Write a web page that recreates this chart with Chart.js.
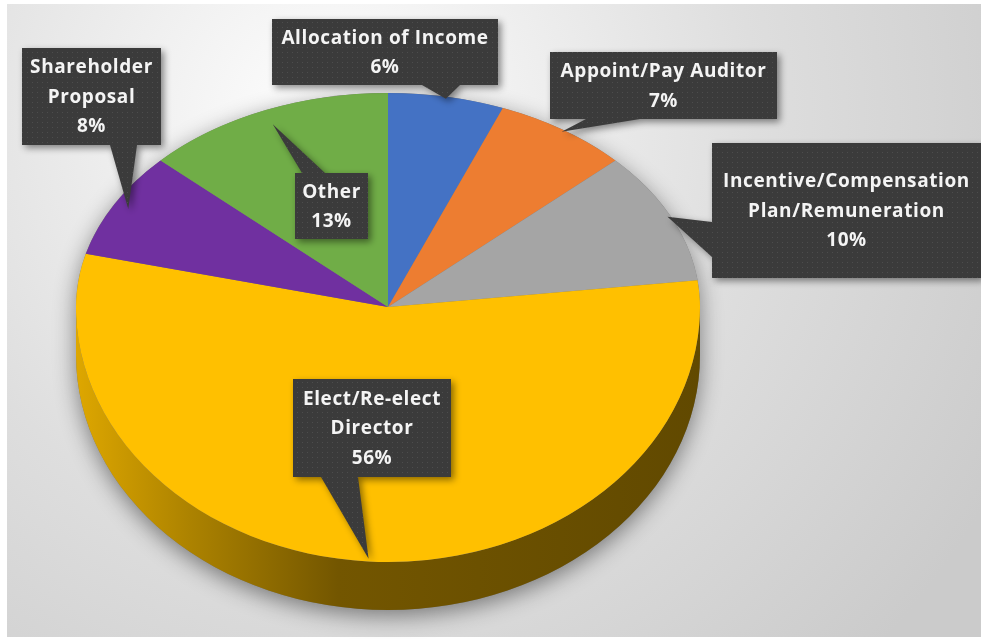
<!DOCTYPE html>
<html>
<head>
<meta charset="utf-8">
<title>Proposal categories</title>
<script src="https://cdn.jsdelivr.net/npm/chart.js@4.4.1/dist/chart.umd.min.js"></script>
<style>
  html, body { margin: 0; padding: 0; background: #fff; }
  #pie { display: block; }
</style>
</head>
<body>
<canvas id="pie" width="981" height="639"></canvas>
<script>
// proposal categories, clockwise from 12 o'clock
const categories = ['Allocation of Income', 'Appoint/Pay Auditor', 'Incentive/Compensation Plan/Remuneration',
  'Elect/Re-elect Director', 'Shareholder Proposal', 'Other'];
const shares = [6, 7, 10, 56, 8, 13];
const labelLines = [
  ['Allocation of Income'],
  ['Appoint/Pay Auditor'],
  ['Incentive/Compensation', 'Plan/Remuneration'],
  ['Elect/Re-elect', 'Director'],
  ['Shareholder', 'Proposal'],
  ['Other']
];
const sliceColors = ['#4472C4', '#ED7D31', '#A5A5A5', '#FFC000', '#7030A0', '#70AD47'];

// callout boxes: rect, which edge the pointer leaves from, pointer base span, how far in the tip reaches
const callouts = [
  { x: 272, y: 19,  w: 226, h: 66,  side: 'bottom', b0: 422, b1: 460, reach: 0.99 },
  { x: 550, y: 52,  w: 227, h: 67,  side: 'bottom', b0: 586, b1: 640, reach: 0.99 },
  { x: 712, y: 143, w: 269, h: 135, side: 'left',   b0: 222, b1: 257, reach: 0.99 },
  { x: 293, y: 379, w: 158, h: 98,  side: 'bottom', b0: 321, b1: 358, reach: 0.99 },
  { x: 22,  y: 48,  w: 139, h: 97,  side: 'bottom', b0: 110, b1: 137, reach: 0.95 },
  { x: 295, y: 173, w: 73,  h: 66,  side: 'top',    b0: 302, b1: 325, reach: 0.93 }
];

// fake perspective: far half squashed more than near half
const HUB_Y = 307;
const TILT_FAR = 0.686;
const TILT_NEAR = 0.817;
const DEPTH = 48;

function shade(hex, f) {
  const n = parseInt(hex.slice(1), 16);
  const r = Math.round(((n >> 16) & 255) * f), g = Math.round(((n >> 8) & 255) * f), b = Math.round((n & 255) * f);
  return `rgb(${r},${g},${b})`;
}

function dotPattern(ctx) {
  const c = document.createElement('canvas');
  c.width = 5; c.height = 5;
  const p = c.getContext('2d');
  p.fillStyle = '#3b3b3b';
  p.fillRect(0, 0, 5, 5);
  p.fillStyle = '#4d4d4d';
  p.fillRect(2, 2, 1, 1);
  return ctx.createPattern(c, 'repeat');
}

// map a point of the flat pie onto the tilted disc
function project(arc, angle, frac) {
  const s = Math.sin(angle);
  const k = s < 0 ? TILT_FAR : TILT_NEAR;
  return [arc.x + arc.outerRadius * frac * Math.cos(angle), HUB_Y + arc.outerRadius * frac * k * s];
}

function pushTilt(chart, k, y0, y1) {
  const ctx = chart.ctx;
  const { x: cx, y: cy } = chart.getDatasetMeta(0).data[0];
  ctx.save();
  ctx.beginPath();
  ctx.rect(0, y0, chart.width, y1 - y0);
  ctx.clip();
  ctx.translate(cx, HUB_Y);
  ctx.scale(1, k);
  ctx.translate(-cx, -cy);
}

const backdrop = {
  id: 'backdrop',
  beforeDraw(chart) {
    const ctx = chart.ctx;
    ctx.save();
    ctx.fillStyle = '#fff';
    ctx.fillRect(0, 0, chart.width, chart.height);
    const g = ctx.createRadialGradient(330, 120, 20, 330, 120, 760);
    g.addColorStop(0, '#fdfdfd');
    g.addColorStop(0.55, '#dedede');
    g.addColorStop(1, '#cbcbcb');
    ctx.fillStyle = g;
    ctx.fillRect(7, 4, chart.width - 7, 633);
    ctx.restore();
  }
};

const tilt = {
  id: 'tilt',
  beforeDatasetsDraw(chart) {
    const ctx = chart.ctx;
    const arcs = chart.getDatasetMeta(0).data;
    const cx = arcs[0].x, R = arcs[0].outerRadius;
    const ryFar = R * TILT_FAR, ryNear = R * TILT_NEAR;

    // soft shadow under the whole disc
    ctx.save();
    ctx.beginPath();
    ctx.ellipse(cx, HUB_Y, R, ryFar, 0, Math.PI, 2 * Math.PI);
    ctx.ellipse(cx, HUB_Y + DEPTH, R, ryNear, 0, 0, Math.PI);
    ctx.closePath();
    ctx.shadowColor = 'rgba(0,0,0,0.45)';
    ctx.shadowBlur = 22;
    ctx.shadowOffsetY = 6;
    ctx.fillStyle = '#777';
    ctx.fill();
    ctx.restore();

    // front wall of each slice (canvas angles 0..PI face the viewer)
    arcs.forEach((arc, i) => {
      const g = ctx.createLinearGradient(cx - R, 0, cx + R, 0);
      g.addColorStop(0, shade(sliceColors[i], 0.87));
      g.addColorStop(0.18, shade(sliceColors[i], 0.68));
      g.addColorStop(0.42, shade(sliceColors[i], 0.45));
      g.addColorStop(1, shade(sliceColors[i], 0.38));
      [-2 * Math.PI, 0, 2 * Math.PI].forEach(shift => {
        const a0 = Math.max(arc.startAngle + shift, 0);
        const a1 = Math.min(arc.endAngle + shift, Math.PI);
        if (a1 <= a0) return;
        ctx.beginPath();
        ctx.ellipse(cx, HUB_Y, R, ryNear, 0, a0, a1);
        ctx.ellipse(cx, HUB_Y + DEPTH, R, ryNear, 0, a1, a0, true);
        ctx.closePath();
        ctx.fillStyle = g;
        ctx.fill();
      });
    });

    // far half of the top face
    pushTilt(chart, TILT_FAR, 0, HUB_Y);
  },
  afterDatasetsDraw(chart) {
    chart.ctx.restore();
    // near half of the top face
    pushTilt(chart, TILT_NEAR, HUB_Y, chart.height);
    chart.getDatasetMeta(0).controller.draw();
    chart.ctx.restore();
  }
};

const calloutLabels = {
  id: 'calloutLabels',
  afterDraw(chart) {
    const ctx = chart.ctx;
    const arcs = chart.getDatasetMeta(0).data;
    const pattern = dotPattern(ctx);
    arcs.forEach((arc, i) => {
      const c = callouts[i];
      const [tx, ty] = project(arc, (arc.startAngle + arc.endAngle) / 2, c.reach);
      const { x, y, w, h } = c;

      ctx.save();
      ctx.beginPath();
      if (c.side === 'bottom') {
        ctx.moveTo(x, y); ctx.lineTo(x + w, y); ctx.lineTo(x + w, y + h);
        ctx.lineTo(c.b1, y + h); ctx.lineTo(tx, ty); ctx.lineTo(c.b0, y + h); ctx.lineTo(x, y + h);
      } else if (c.side === 'top') {
        ctx.moveTo(x, y); ctx.lineTo(c.b0, y); ctx.lineTo(tx, ty); ctx.lineTo(c.b1, y);
        ctx.lineTo(x + w, y); ctx.lineTo(x + w, y + h); ctx.lineTo(x, y + h);
      } else {
        ctx.moveTo(x, y); ctx.lineTo(x + w, y); ctx.lineTo(x + w, y + h); ctx.lineTo(x, y + h);
        ctx.lineTo(x, c.b1); ctx.lineTo(tx, ty); ctx.lineTo(x, c.b0);
      }
      ctx.closePath();
      ctx.shadowColor = 'rgba(0,0,0,0.45)';
      ctx.shadowBlur = 7;
      ctx.shadowOffsetX = 3;
      ctx.shadowOffsetY = 3;
      ctx.fillStyle = pattern;
      ctx.fill();
      ctx.restore();

      const lines = labelLines[i].concat([shares[i] + '%']);
      const lh = 29.5;
      ctx.save();
      ctx.font = '700 19px "Open Sans", Lato, sans-serif';
      ctx.letterSpacing = '0.6px';
      ctx.fillStyle = '#f4f4f4';
      ctx.textAlign = 'center';
      ctx.textBaseline = 'middle';
      const top = y + h / 2 - (lines.length - 1) * lh / 2 + 1;
      lines.forEach((t, j) => ctx.fillText(t, x + w / 2, top + j * lh));
      ctx.restore();
    });
  }
};

new Chart(document.getElementById('pie'), {
  type: 'pie',
  data: {
    labels: categories,
    datasets: [{ data: shares, backgroundColor: sliceColors, borderWidth: 0 }]
  },
  options: {
    responsive: false,
    animation: false,
    layout: { padding: { left: 76, right: 281, top: 15, bottom: 0 } },
    plugins: { legend: { display: false }, tooltip: { enabled: false } }
  },
  plugins: [backdrop, tilt, calloutLabels]
});
</script>
</body>
</html>
